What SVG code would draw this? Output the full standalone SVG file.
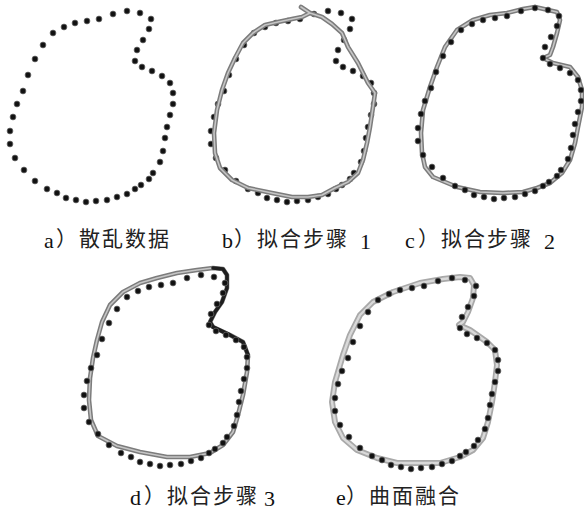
<svg xmlns="http://www.w3.org/2000/svg" xmlns:xlink="http://www.w3.org/1999/xlink" width="584" height="513" viewBox="0 0 584 513">
<style>
.dots circle{fill:#111;stroke:#666;stroke-width:0.8}
.cout{fill:none;stroke:#7c7c7c;stroke-width:4.6;stroke-linejoin:round;stroke-linecap:round}
.cin{fill:none;stroke:#c6c6c6;stroke-width:1.6;stroke-linejoin:round;stroke-linecap:round}
.eout{fill:none;stroke:#a9a9a9;stroke-width:6;stroke-linejoin:round;stroke-linecap:round}
.ein{fill:none;stroke:#d9d9d9;stroke-width:2.4;stroke-linejoin:round;stroke-linecap:round}
.dark{fill:none;stroke:#1e1e1e;stroke-width:3.6;stroke-linejoin:round;stroke-linecap:round}
.lat{font-family:"Liberation Serif","Times New Roman",serif;font-size:22px;fill:#111}
.cjk{font-family:"Noto Sans CJK SC","Noto Sans",sans-serif;font-size:21px;fill:#222;letter-spacing:2px}
</style>
<defs>
<g id="dots" class="dots">
<circle cx="113" cy="14" r="2.9"/><circle cx="127" cy="11" r="2.9"/><circle cx="140" cy="13" r="2.9"/><circle cx="151" cy="19" r="2.9"/>
<circle cx="149" cy="29" r="2.9"/><circle cx="143" cy="40" r="2.9"/><circle cx="137" cy="50" r="2.9"/><circle cx="135" cy="61" r="2.9"/>
<circle cx="142" cy="67" r="2.9"/><circle cx="152" cy="71" r="2.9"/><circle cx="162" cy="76" r="2.9"/><circle cx="170" cy="83" r="2.9"/>
<circle cx="173" cy="93" r="2.9"/><circle cx="173" cy="104" r="2.9"/><circle cx="170" cy="115" r="2.9"/><circle cx="167" cy="127" r="2.9"/>
<circle cx="165" cy="138" r="2.9"/><circle cx="163" cy="151" r="2.9"/><circle cx="160" cy="162" r="2.9"/><circle cx="153" cy="173" r="2.9"/>
<circle cx="149" cy="179" r="2.9"/><circle cx="141" cy="185" r="2.9"/><circle cx="135" cy="189" r="2.9"/><circle cx="127" cy="194" r="2.9"/>
<circle cx="117" cy="197" r="2.9"/><circle cx="107" cy="200" r="2.9"/><circle cx="96" cy="201" r="2.9"/><circle cx="86" cy="202" r="2.9"/>
<circle cx="76" cy="200" r="2.9"/><circle cx="66" cy="198" r="2.9"/><circle cx="57" cy="193" r="2.9"/><circle cx="47" cy="189" r="2.9"/>
<circle cx="35" cy="181" r="2.9"/><circle cx="24" cy="170" r="2.9"/><circle cx="15" cy="158" r="2.9"/><circle cx="10" cy="144" r="2.9"/>
<circle cx="10" cy="131" r="2.9"/><circle cx="13" cy="117" r="2.9"/><circle cx="17" cy="104" r="2.9"/><circle cx="23" cy="91" r="2.9"/>
<circle cx="28" cy="75" r="2.9"/><circle cx="35" cy="59" r="2.9"/><circle cx="43" cy="45" r="2.9"/><circle cx="53" cy="33" r="2.9"/>
<circle cx="64" cy="27" r="2.9"/><circle cx="75" cy="23" r="2.9"/><circle cx="87" cy="21" r="2.9"/><circle cx="99" cy="19" r="2.9"/>
</g>
<path id="pb" d="M301,7 L310,13 L322,17 L332,24 L342,33 L348,47 L358,63 L368,83 L375,93 L373,107 L370,127 L367,143 L363,160 L358,173 L348,182 L335,188 L322,195 L308,197 L292,197 L272,193 L248,188 L232,180 L220,168 L215,153 L214,133 L217,110 L222,90 L228,73 L235,58 L243,43 L253,33 L265,25 L278,22 L292,19 L302,17 L310,13"/>
<path id="pc" d="M535,7 L557,12 L560,20 L557,33 L553,47 L550,55 L543,58 L553,63 L570,67 L578,77 L582,90 L582,107 L578,127 L575,143 L570,160 L562,173 L550,183 L537,188 L523,192 L503,193 L480,192 L457,187 L433,177 L425,167 L422,153 L421,133 L423,110 L430,87 L437,67 L445,47 L457,30 L473,20 L490,15 L507,13 L523,9 Z"/>
<path id="pd" d="M223,269 L227,275 L227,288 L222,302 L215,312 L210,322 L213,327 L230,335 L243,342 L248,355 L247,372 L243,395 L238,415 L233,432 L223,445 L210,453 L190,457 L167,457 L140,452 L117,446 L98,436 L91,420 L89,400 L90,378 L93,358 L97,340 L102,322 L110,305 L123,292 L140,283 L157,278 L177,273 L197,270 L213,268 Z"/>
<path id="pe" d="M470,278 L474,285 L473,298 L468,312 L463,322 L459,325 L470,330 L487,342 L495,350 L497,365 L495,382 L492,402 L488,422 L483,438 L473,450 L460,457 L440,463 L417,463 L397,463 L377,458 L357,450 L343,438 L335,422 L332,402 L335,382 L343,355 L350,335 L360,315 L373,302 L393,292 L420,283 L443,279 L460,277 Z"/>
</defs>

<g id="panel-a">
<use href="#dots"/>
</g>

<g id="panel-b">
<use href="#dots" transform="translate(201,0)"/>
<use href="#pb" class="cout"/>
<use href="#pb" class="cin"/>
</g>

<g id="panel-c">
<use href="#pc" class="cout"/>
<use href="#pc" class="cin"/>
<use href="#dots" transform="translate(408,-3)"/>
</g>

<g id="panel-d">
<use href="#pd" class="cout"/>
<use href="#pd" class="cin"/>
<path class="dark" d="M213,268 L223,269 L227,275 L227,288 L222,302 L215,312 L210,322 L213,327 L230,335 L243,342 L248,355"/>
<use href="#dots" transform="translate(74,264)"/>
</g>

<g id="panel-e">
<use href="#pe" class="eout"/>
<use href="#pe" class="ein"/>
<use href="#dots" transform="translate(325,267)"/>
</g>

<g id="labels">
<text class="lat" x="44" y="248">a</text><text class="cjk" x="56" y="246">）散乱数据</text>
<text class="lat" x="222" y="248">b</text><text class="cjk" x="234" y="246">）拟合步骤</text><text class="lat" x="360" y="249">1</text>
<text class="lat" x="405" y="248">c</text><text class="cjk" x="418" y="246">）拟合步骤</text><text class="lat" x="544" y="249">2</text>
<text class="lat" x="130" y="505">d</text><text class="cjk" x="144" y="503">）拟合步骤</text><text class="lat" x="264" y="506">3</text>
<text class="lat" x="336" y="505">e</text><text class="cjk" x="346" y="503">）曲面融合</text>
</g>
</svg>
